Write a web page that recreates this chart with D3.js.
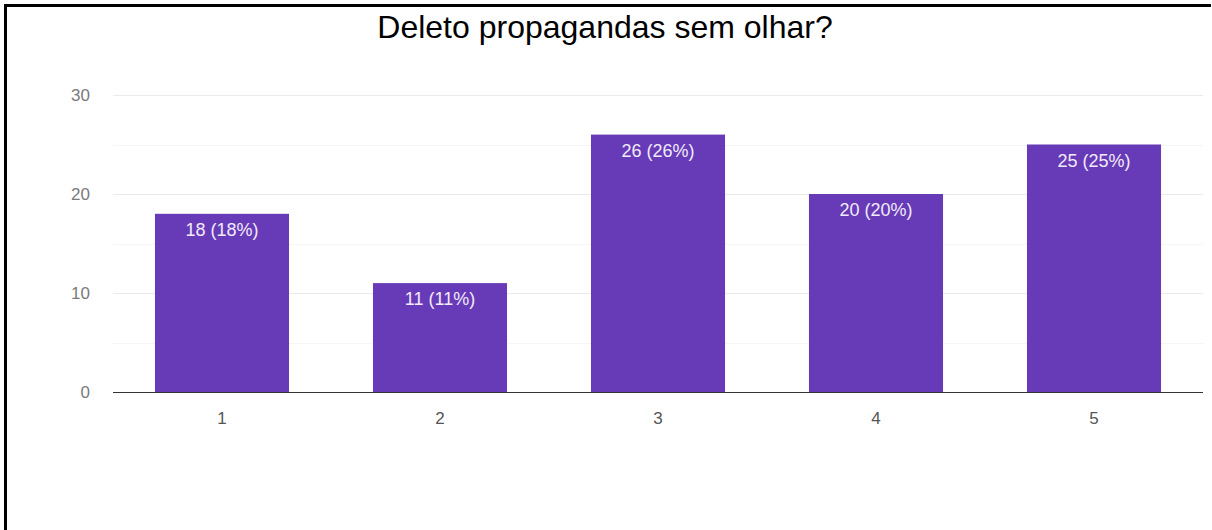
<!DOCTYPE html>
<html>
<head>
<meta charset="utf-8">
<script src="https://cdn.jsdelivr.net/npm/d3@7"></script>
<style>
  html, body { margin: 0; padding: 0; background: #fff; }
  svg { display: block; }
</style>
</head>
<body>
<svg id="chart" width="1212" height="530"></svg>
<script>
// Survey answers on a 1–5 scale and how many people chose each
const categories = ["1", "2", "3", "4", "5"];
const counts = [18, 11, 26, 20, 25];
const percents = [18, 11, 26, 20, 25];
const yTicks = [0, 10, 20, 30];
const yMinorTicks = [5, 15, 25];
const title = "Deleto propagandas sem olhar?";

const W = 1212, H = 530;
const plot = { left: 113, right: 1203, top: 95, bottom: 392 };
const FONT = "Liberation Sans, Arial, sans-serif";

const svg = d3.select("#chart");

// outer frame: left and top edges
svg.append("rect").attr("x", 0).attr("y", 0).attr("width", W).attr("height", H).attr("fill", "#fff");
svg.append("line").attr("x1", 5.5).attr("x2", 5.5).attr("y1", 4).attr("y2", H)
  .attr("stroke", "#000").attr("stroke-width", 3);
svg.append("line").attr("x1", 4).attr("x2", W - 1).attr("y1", 5.5).attr("y2", 5.5)
  .attr("stroke", "#000").attr("stroke-width", 3);

svg.append("text")
  .attr("x", 605).attr("y", 38)
  .attr("text-anchor", "middle")
  .attr("font-family", FONT)
  .attr("font-size", 32)
  .attr("fill", "#000")
  .text(title);

const x = d3.scaleBand()
  .domain(categories)
  .range([plot.left, plot.right])
  .paddingInner(0.385)
  .paddingOuter(0.1925);

const y = d3.scaleLinear()
  .domain([0, 30])
  .range([plot.bottom, plot.top]);

// minor gridlines
svg.append("g").selectAll("line").data(yMinorTicks).join("line")
  .attr("x1", plot.left).attr("x2", plot.right)
  .attr("y1", d => Math.round(y(d)) + 0.5).attr("y2", d => Math.round(y(d)) + 0.5)
  .attr("stroke", "#f5f5f5").attr("stroke-width", 1);

// major gridlines
svg.append("g").selectAll("line").data(yTicks.filter(d => d > 0)).join("line")
  .attr("x1", plot.left).attr("x2", plot.right)
  .attr("y1", d => Math.round(y(d)) + 0.5).attr("y2", d => Math.round(y(d)) + 0.5)
  .attr("stroke", "#ebebeb").attr("stroke-width", 1);

// y axis labels
const yAxis = d3.axisLeft(y).tickValues(yTicks).tickSize(0).tickPadding(0);
const gy = svg.append("g").attr("transform", `translate(${plot.left - 23},0)`).call(yAxis);
gy.select(".domain").remove();
gy.selectAll("text")
  .attr("font-family", FONT)
  .attr("font-size", 17)
  .attr("fill", "#7a7a7a");

// bars
const data = categories.map((c, i) => ({ c, v: counts[i], p: percents[i] }));
svg.append("g").selectAll("rect").data(data).join("rect")
  .attr("x", d => x(d.c))
  .attr("y", d => y(d.v))
  .attr("width", x.bandwidth())
  .attr("height", d => y(0) - y(d.v))
  .attr("fill", "#673ab7");

// value labels inside the bars
svg.append("g").selectAll("text").data(data).join("text")
  .attr("x", d => x(d.c) + x.bandwidth() / 2)
  .attr("y", d => y(d.v) + 22)
  .attr("text-anchor", "middle")
  .attr("font-family", FONT)
  .attr("font-size", 18)
  .attr("fill", "#f1ebfa")
  .text(d => `${d.v} (${d.p}%)`);

// baseline
svg.append("line")
  .attr("x1", plot.left).attr("x2", plot.right)
  .attr("y1", y(0) + 0.5).attr("y2", y(0) + 0.5)
  .attr("stroke", "#333").attr("stroke-width", 1.2);

// x axis labels
const xAxis = d3.axisBottom(x).tickSize(0).tickPadding(0);
const gx = svg.append("g").attr("transform", `translate(0,${plot.bottom + 20})`).call(xAxis);
gx.select(".domain").remove();
gx.selectAll("text")
  .attr("font-family", FONT)
  .attr("font-size", 17)
  .attr("fill", "#555");
</script>
</body>
</html>
